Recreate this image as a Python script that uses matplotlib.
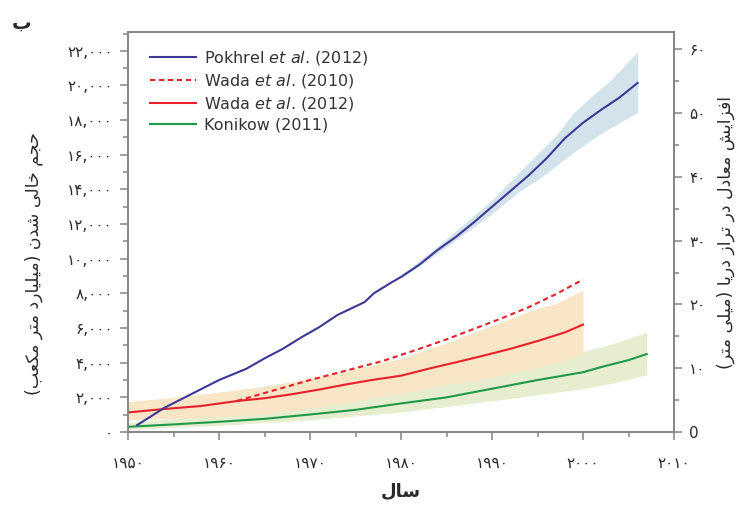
import matplotlib
matplotlib.use("Agg")
import matplotlib.pyplot as plt
from matplotlib.ticker import MultipleLocator

# ---------------- dati ----------------
pokhrel_years = [1951, 1954, 1957, 1960, 1963, 1965, 1967, 1969, 1971, 1973, 1975, 1976, 1977, 1979,
                 1980, 1982, 1984, 1986, 1988, 1990, 1992, 1994, 1996, 1998, 2000, 2002, 2004, 2006]
pokhrel_vals = [400, 1400, 2200, 3000, 3650, 4250, 4800, 5450, 6050, 6750, 7250, 7500, 8000, 8650,
                8950, 9650, 10500, 11250, 12100, 13000, 13900, 14800, 15800, 16950, 17850, 18600, 19300, 20150]
pokhrel_band_years = [1980, 1985, 1990, 1993, 1995, 1997, 1999, 2001, 2003, 2006]
pokhrel_low = [8850, 10700, 12600, 13900, 14550, 15350, 16150, 16900, 17550, 18450]
pokhrel_high = [9050, 11150, 13400, 15000, 16050, 17100, 18450, 19400, 20300, 21950]

wada10_years = [1962, 1966, 1970, 1974, 1978, 1980, 1982, 1985, 1988, 1991, 1994, 1997, 2000]
wada10_vals = [1800, 2400, 3000, 3550, 4100, 4450, 4800, 5350, 5950, 6550, 7200, 7950, 8800]

wada12_years = [1950, 1954, 1958, 1962, 1965, 1968, 1971, 1974, 1977, 1980, 1983, 1986, 1989, 1992, 1995, 1998, 2000]
wada12_vals = [1130, 1330, 1500, 1790, 1950, 2180, 2450, 2750, 3020, 3250, 3650, 4020, 4400, 4800, 5250, 5750, 6200]
wada12_band_years = [1950, 1955, 1960, 1965, 1970, 1975, 1980, 1985, 1990, 1995, 1997, 2000]
wada12_low = [700, 780, 880, 1050, 1350, 1800, 2250, 2750, 3150, 3750, 4000, 4450]
wada12_high = [1750, 2000, 2300, 2650, 3100, 3650, 4250, 5150, 6150, 7150, 7400, 8200]

konikow_years = [1950, 1955, 1960, 1965, 1970, 1975, 1980, 1985, 1990, 1995, 2000, 2002, 2005, 2007]
konikow_vals = [300, 440, 590, 760, 1010, 1280, 1650, 2000, 2500, 3000, 3450, 3750, 4150, 4500]
konikow_band_years = [1950, 1960, 1970, 1980, 1990, 2000, 2003, 2007]
konikow_low = [150, 380, 700, 1150, 1800, 2500, 2800, 3300]
konikow_high = [550, 1000, 1700, 2600, 3600, 4650, 5050, 5750]

x_ticks = [1950, 1960, 1970, 1980, 1990, 2000, 2010]
left_ticks = list(range(0, 22001, 2000))
right_ticks = [0, 10, 20, 30, 40, 50, 60]

title_panel = "ب"
xlabel_txt = "سال"
ylabel_left = "حجم خالی شدن (میلیارد متر مکعب)"
ylabel_right = "افزایش معادل در تراز دریا (میلی متر)"

# ---------------- shaping arabo/persiano minimale ----------------
DUAL = {
    'ب': (0xFE8F, 0xFE90, 0xFE91, 0xFE92), 'ت': (0xFE95, 0xFE96, 0xFE97, 0xFE98),
    'ج': (0xFE9D, 0xFE9E, 0xFE9F, 0xFEA0), 'ح': (0xFEA1, 0xFEA2, 0xFEA3, 0xFEA4),
    'خ': (0xFEA5, 0xFEA6, 0xFEA7, 0xFEA8), 'س': (0xFEB1, 0xFEB2, 0xFEB3, 0xFEB4),
    'ش': (0xFEB5, 0xFEB6, 0xFEB7, 0xFEB8), 'ع': (0xFEC9, 0xFECA, 0xFECB, 0xFECC),
    'ف': (0xFED1, 0xFED2, 0xFED3, 0xFED4), 'ک': (0xFED9, 0xFEDA, 0xFEDB, 0xFEDC),
    'ل': (0xFEDD, 0xFEDE, 0xFEDF, 0xFEE0), 'م': (0xFEE1, 0xFEE2, 0xFEE3, 0xFEE4),
    'ن': (0xFEE5, 0xFEE6, 0xFEE7, 0xFEE8), 'ی': (0xFEEF, 0xFEF0, 0xFEF3, 0xFEF4),
}
RIGHT = {'ا': (0xFE8D, 0xFE8E), 'د': (0xFEA9, 0xFEAA), 'ر': (0xFEAD, 0xFEAE), 'ز': (0xFEAF, 0xFEB0)}


def shape(text):
    out = []
    for i, ch in enumerate(text):
        prev = text[i - 1] if i > 0 else ''
        nxt = text[i + 1] if i + 1 < len(text) else ''
        if ch in DUAL:
            jp = prev in DUAL
            jn = nxt in DUAL or nxt in RIGHT
            f = DUAL[ch]
            out.append(chr(f[3] if jp and jn else f[2] if jn else f[1] if jp else f[0]))
        elif ch in RIGHT:
            f = RIGHT[ch]
            out.append(chr(f[1] if prev in DUAL else f[0]))
        else:
            out.append(ch)
    mirror = {'(': ')', ')': '('}
    return ''.join(mirror.get(c, c) for c in reversed(out))


def fa(n, sep=False):
    s = f"{n:,}" if sep else str(n)
    return s.translate(str.maketrans("0123456789", "۰۱۲۳۴۵۶۷۸۹"))


# ---------------- grafico ----------------
plt.rcParams['font.family'] = ['DejaVu Sans']
txt_col = '#2a2a2a'
spine_col = '#858585'

fig = plt.figure(figsize=(7.5, 5.14), dpi=100)
ax = fig.add_axes([0.1707, 0.1595, 0.728, 0.778])

# bande di incertezza
ax.fill_between(konikow_band_years, konikow_low, konikow_high, color='#e6eecf', lw=0, zorder=1)
ax.fill_between(wada12_band_years, wada12_low, wada12_high, color='#f8e6c6', lw=0, zorder=2)
ax.fill_between(pokhrel_band_years, pokhrel_low, pokhrel_high, color='#d3e3ec', lw=0, zorder=2)

# linee
ax.plot(pokhrel_years, pokhrel_vals, color='#3c3896', lw=1.5, zorder=5,
        label=r"Pokhrel $\it{et\ al}$. (2012)")
ax.plot(wada10_years, wada10_vals, color='#e8202a', lw=1.5, ls=(0, (2.5, 1.8)), zorder=4,
        label=r"Wada $\it{et\ al}$. (2010)")
ax.plot(wada12_years, wada12_vals, color='#e8202a', lw=1.5, zorder=4,
        label=r"Wada $\it{et\ al}$. (2012)")
ax.plot(konikow_years, konikow_vals, color='#1e9a48', lw=1.5, zorder=4,
        label="Konikow (2011)")

ax.set_xlim(1950, 2010)
ax.set_ylim(0, 23080)

ax.set_xticks(x_ticks)
ax.set_xticklabels([fa(x) for x in x_ticks])
ax.xaxis.set_minor_locator(MultipleLocator(5))
ax.set_yticks(left_ticks)
ax.set_yticklabels([fa(v, sep=True) for v in left_ticks])
ax.yaxis.set_minor_locator(MultipleLocator(1000))

ax2 = ax.twinx()
ax2.set_ylim(0, 62.7)
ax2.set_yticks(right_ticks)
ax2.set_yticklabels(["0"] + [fa(v) for v in right_ticks[1:]])
ax2.yaxis.set_minor_locator(MultipleLocator(5))

for a in (ax, ax2):
    for sp in a.spines.values():
        sp.set_color(spine_col)
        sp.set_linewidth(1.2)
    a.tick_params(which='major', direction='out', length=6, width=1.1, color=spine_col,
                  labelsize=11, labelcolor=txt_col, pad=5)
    a.tick_params(which='minor', direction='out', length=3.5, width=1.1, color=spine_col)
ax.tick_params(axis='x', which='major', pad=11)

ax.set_xlabel(shape(xlabel_txt), fontsize=13, fontweight='bold', color=txt_col, labelpad=8)
ax.set_ylabel(shape(ylabel_left), fontsize=12.5, color=txt_col)
ax.yaxis.set_label_coords(-0.156, 0.42)
ax2.set_ylabel(shape(ylabel_right), fontsize=12.5, color=txt_col, rotation=90, labelpad=8)

fig.text(0.016, 0.955, shape(title_panel), fontsize=14, fontweight='bold', color=txt_col,
         va='center')

leg = ax.legend(loc='upper left', bbox_to_anchor=(0.02, 0.985), frameon=False, fontsize=11.5,
                handlelength=2.9, handletextpad=0.5, labelspacing=0.3, borderaxespad=0.3)
for t in leg.get_texts():
    t.set_color('#333333')

fig.savefig('out.png', dpi=100)
